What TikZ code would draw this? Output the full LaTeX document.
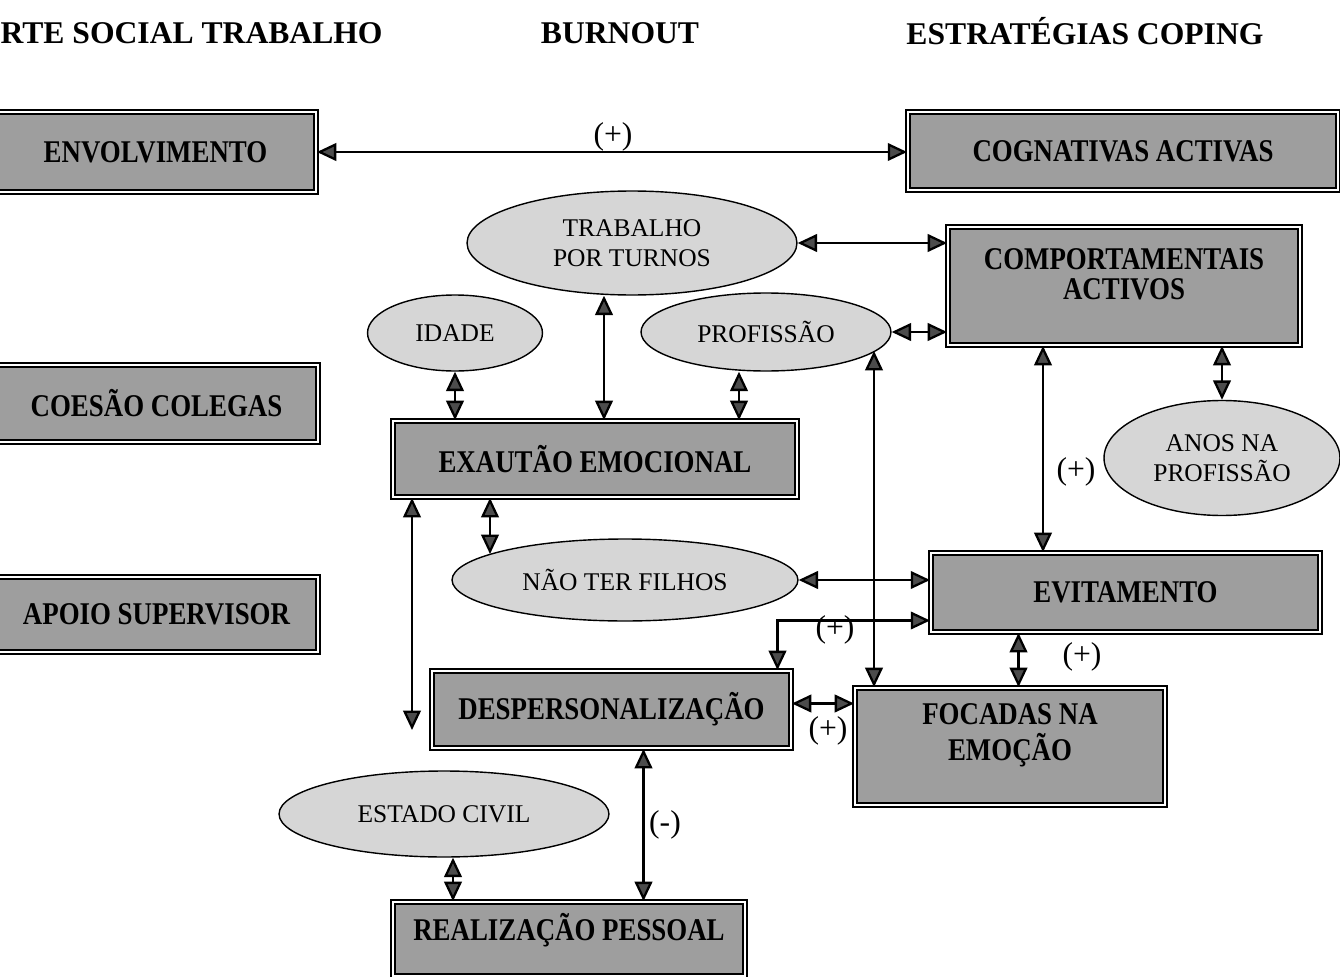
\documentclass[tikz,border=0pt]{standalone}
\usepackage{fontspec}
\setmainfont{Liberation Serif}
\newfontfamily\boxfont{Liberation Serif}[FakeStretch=0.85]
\usetikzlibrary{arrows.meta,calc,shapes.geometric}
\definecolor{boxgray}{gray}{0.62}
\definecolor{ellgray}{gray}{0.84}
\definecolor{tipgray}{gray}{0.3}
\tikzset{
  gbox/.style={rectangle, draw=black, double=white, double distance=1.4pt, line width=1.1pt,
    fill=boxgray, font=\boxfont\bfseries\fontsize{18}{17.5}\selectfont, align=center, inner sep=0pt},
  twoline/.style={text height=29.5pt, text depth=13.6pt},
  oneup/.style={text height=12pt, text depth=10.2pt},
  gell/.style={ellipse, draw=black, line width=0.8pt, fill=ellgray,
    font=\fontsize{14.5}{17}\selectfont, align=center, inner sep=0pt},
  bi/.style={line width=1.3pt,
    {Triangle[length=11pt,width=10pt,fill=tipgray]}-{Triangle[length=11pt,width=10pt,fill=tipgray]}},
  lbl/.style={font=\fontsize{18}{20}\selectfont, inner sep=0pt},
  hdr/.style={font=\bfseries\fontsize{18}{20}\selectfont, inner sep=0pt},
}
\begin{document}
\begin{tikzpicture}[x=0.02cm,y=-0.02cm]
\useasboundingbox (0,0) rectangle (1340,977);
\clip (0,0) rectangle (1340,977);
\fill[white] (0,0) rectangle (1340,977);

% headers
\node[hdr, anchor=east] (h1) at (383,33) {RTE SOCIAL TRABALHO};
\node[hdr] (h2) at (620,33) {BURNOUT};
\node[hdr] (h3) at (1085,31) {ESTRATÉGIAS COPING};

% boxes
\node[gbox, minimum width=6.42cm, minimum height=1.6cm] (env) at (155.5,152) {ENVOLVIMENTO};
\node[gbox, minimum width=8.6cm, minimum height=1.56cm] (cog) at (1123,151) {COGNATIVAS ACTIVAS};
\node[gbox, twoline, minimum width=7.04cm, minimum height=2.36cm] (comp) at (1124,286)
  {\begin{tabular}[b]{@{}c@{}}COMPORTAMENTAIS\\ACTIVOS\end{tabular}};
\node[gbox, minimum width=6.46cm, minimum height=1.54cm] (coes) at (156.5,403.5) {COESÃO COLEGAS};
\node[gbox, minimum width=6.46cm, minimum height=1.5cm] (apoio) at (156.5,614.5) {APOIO SUPERVISOR};
\node[gbox, minimum width=8.08cm, minimum height=1.52cm] (exa) at (595,459) {EXAUTÃO EMOCIONAL};
\node[gbox, minimum width=7.78cm, minimum height=1.58cm] (evit) at (1125.5,592.5) {EVITAMENTO};
\node[gbox, minimum width=7.18cm, minimum height=1.54cm] (desp) at (611.5,709.5) {DESPERSONALIZAÇÃO};
\node[gbox, twoline, minimum width=6.2cm, minimum height=2.34cm] (foc) at (1010,746.5)
  {\begin{tabular}[b]{@{}c@{}}FOCADAS NA\\EMOÇÃO\end{tabular}};
\node[gbox, oneup, minimum width=7.04cm, minimum height=1.48cm] (real) at (569,939) {REALIZAÇÃO PESSOAL};

% ellipses
\node[gell, minimum width=6.6cm, minimum height=2.08cm] (trab) at (632,243) {TRABALHO\\POR TURNOS};
\node[gell, minimum width=3.5cm, minimum height=1.52cm] (idade) at (455,333) {IDADE};
\node[gell, minimum width=5.0cm, minimum height=1.56cm] (prof) at (766,332) {PROFISSÃO};
\node[gell, minimum width=6.92cm, minimum height=1.64cm] (nao) at (625,580) {NÃO TER FILHOS};
\node[gell, minimum width=4.72cm, minimum height=2.3cm] (anos) at (1222,458) {ANOS NA\\PROFISSÃO};
\node[gell, minimum width=6.6cm, minimum height=1.72cm] (est) at (444,814) {ESTADO CIVIL};

% helper coordinates
\coordinate (t1) at ($(trab.south)+(-28,0)$);
\coordinate (pr1) at ($(prof.south)+(-27,0)$);
\coordinate (p1) at ($(prof.center)+(108,19)$);
\coordinate (c1) at ($(comp.south)+(-81,0)$);
\coordinate (x1) at ($(exa.south)+(-183,0)$);
\coordinate (x1e) at (412,730);
\coordinate (x2) at ($(exa.south)+(-105,0)$);
\coordinate (n1) at ($(nao.center)+(-135,-26)$);
\coordinate (d2) at ($(desp.north)+(166,0)$);
\coordinate (v2) at ($(evit.west)+(0,28)$);
\coordinate (e1) at ($(evit.south)+(-107,0)$);
\coordinate (d1) at ($(desp.east)+(0,-6)$);
\coordinate (d3) at ($(desp.south)+(32,0)$);
\coordinate (s1) at ($(est.south)+(9,0)$);

% connectors
\draw[bi] (env.east) -- (env.east -| cog.west);
\draw[bi] (trab.east) -- (trab.east -| comp.west);
\draw[bi] (prof.east) -- (prof.east -| comp.west);
\draw[bi] (idade.south) -- (idade.south |- exa.north);
\draw[bi] (t1) -- (t1 |- exa.north);
\draw[bi] (pr1) -- (pr1 |- exa.north);
\draw[bi] (p1) -- (p1 |- foc.north);
\draw[bi] (c1) -- (c1 |- evit.north);
\draw[bi] (anos.north) -- (anos.north |- comp.south);
\draw[bi] (x1) -- (x1e);
\draw[bi] (x2) -- (n1);
\draw[bi] (nao.east) -- (nao.east -| evit.west);
\draw[bi] (d2) |- (v2);
\draw[bi] (e1) -- (e1 |- foc.north);
\draw[bi] (d1) -- (d1 -| foc.west);
\draw[bi] (d3) -- (d3 |- real.north);
\draw[bi] (s1) -- (s1 |- real.north);

% labels
\node[lbl] (l1) at (613,137) {(+)};
\node[lbl] (l2) at (1076,472) {(+)};
\node[lbl] (l3) at (835,630) {(+)};
\node[lbl] (l4) at (1082,657) {(+)};
\node[lbl] (l5) at (828,731) {(+)};
\node[lbl] (l6) at (665,825) {(-)};
\end{tikzpicture}
\end{document}
